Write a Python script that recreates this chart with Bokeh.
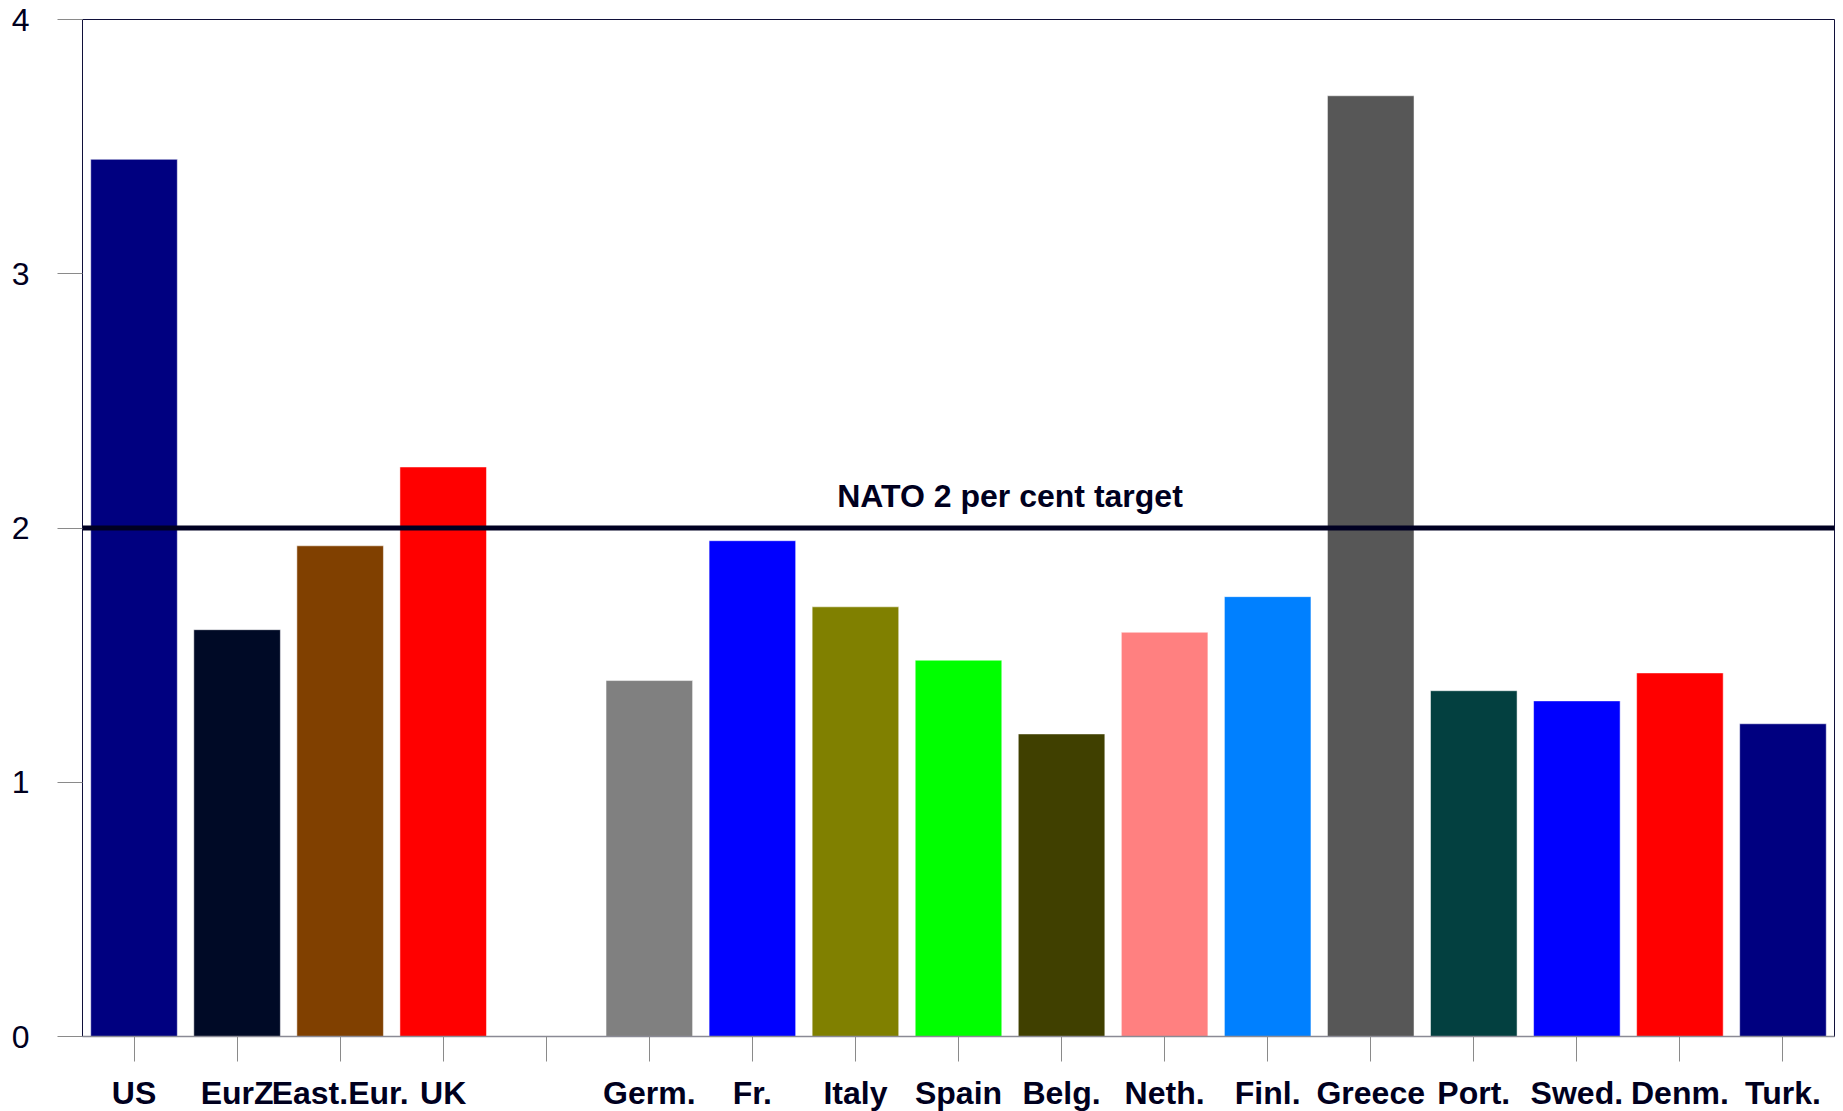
from bokeh.plotting import figure
from bokeh.models import Span, Label, ColumnDataSource, FactorRange, Range1d, FixedTicker
from bokeh.embed import file_html
from bokeh.resources import INLINE

# ---- data ----
categories = ["US", "EurZ", "East.Eur.", "UK", " ", "Germ.", "Fr.", "Italy", "Spain",
              "Belg.", "Neth.", "Finl.", "Greece", "Port.", "Swed.", "Denm.", "Turk."]
bar_categories = ["US", "EurZ", "East.Eur.", "UK", "Germ.", "Fr.", "Italy", "Spain",
                  "Belg.", "Neth.", "Finl.", "Greece", "Port.", "Swed.", "Denm.", "Turk."]
values = [3.45, 1.60, 1.93, 2.24, 1.40, 1.95, 1.69, 1.48,
          1.19, 1.59, 1.73, 3.70, 1.36, 1.32, 1.43, 1.23]
colors = ["#000080", "#000A26", "#804000", "#FF0000", "#808080", "#0000FF", "#808000", "#00FF00",
          "#404000", "#FF8080", "#0080FF", "#575757", "#034040", "#0000FF", "#FF0000", "#000080"]
y_ticks = [0, 1, 2, 3, 4]
nato_target = 2.0
nato_label = "NATO 2 per cent target"
nato_label_x = 9.0

TEXT = "#00001E"
FONT = "Liberation Sans"

p = figure(x_range=FactorRange(*categories, range_padding=0),
           y_range=Range1d(0, 4),
           frame_width=1752, frame_height=1017,
           min_border_left=82, min_border_top=19, min_border_right=9, min_border_bottom=5,
           output_backend="svg", toolbar_location=None)

src = ColumnDataSource(dict(x=bar_categories, top=values, color=colors))
p.vbar(x="x", top="top", bottom=0, width=0.84, fill_color="color",
       line_color="white", line_alpha=0.5, line_width=1, source=src)

p.add_layout(Span(location=nato_target, dimension="width", line_color="#000022", line_width=5))
p.add_layout(Label(x=nato_label_x, y=nato_target, text=nato_label, text_align="center",
                   text_baseline="alphabetic", y_offset=32, text_font=FONT,
                   text_font_size="32px", text_font_style="bold", text_color=TEXT))

p.xgrid.visible = False
p.ygrid.visible = False
p.outline_line_color = "#10103A"
p.outline_line_width = 1
p.background_fill_color = "white"
p.border_fill_color = "white"

xa = p.xaxis[0]
xa.axis_line_color = "#8A8A95"
xa.axis_line_width = 1.5
xa.major_tick_line_color = "#8A8A8A"
xa.major_tick_in = 0
xa.major_tick_out = 25
xa.minor_tick_line_color = None
xa.major_label_standoff = 13
xa.major_label_text_font = FONT
xa.major_label_text_font_size = "32px"
xa.major_label_text_font_style = "bold"
xa.major_label_text_color = TEXT
xa.group_text_font_size = "0px"

ya = p.yaxis[0]
ya.ticker = FixedTicker(ticks=y_ticks)
ya.axis_line_color = None
ya.major_tick_line_color = "#8A8A8A"
ya.major_tick_in = 0
ya.major_tick_out = 25
ya.minor_tick_line_color = None
ya.major_label_standoff = 28
ya.major_label_text_font = FONT
ya.major_label_text_font_size = "32px"
ya.major_label_text_color = TEXT

open("out.html", "w").write(file_html(p, INLINE))
